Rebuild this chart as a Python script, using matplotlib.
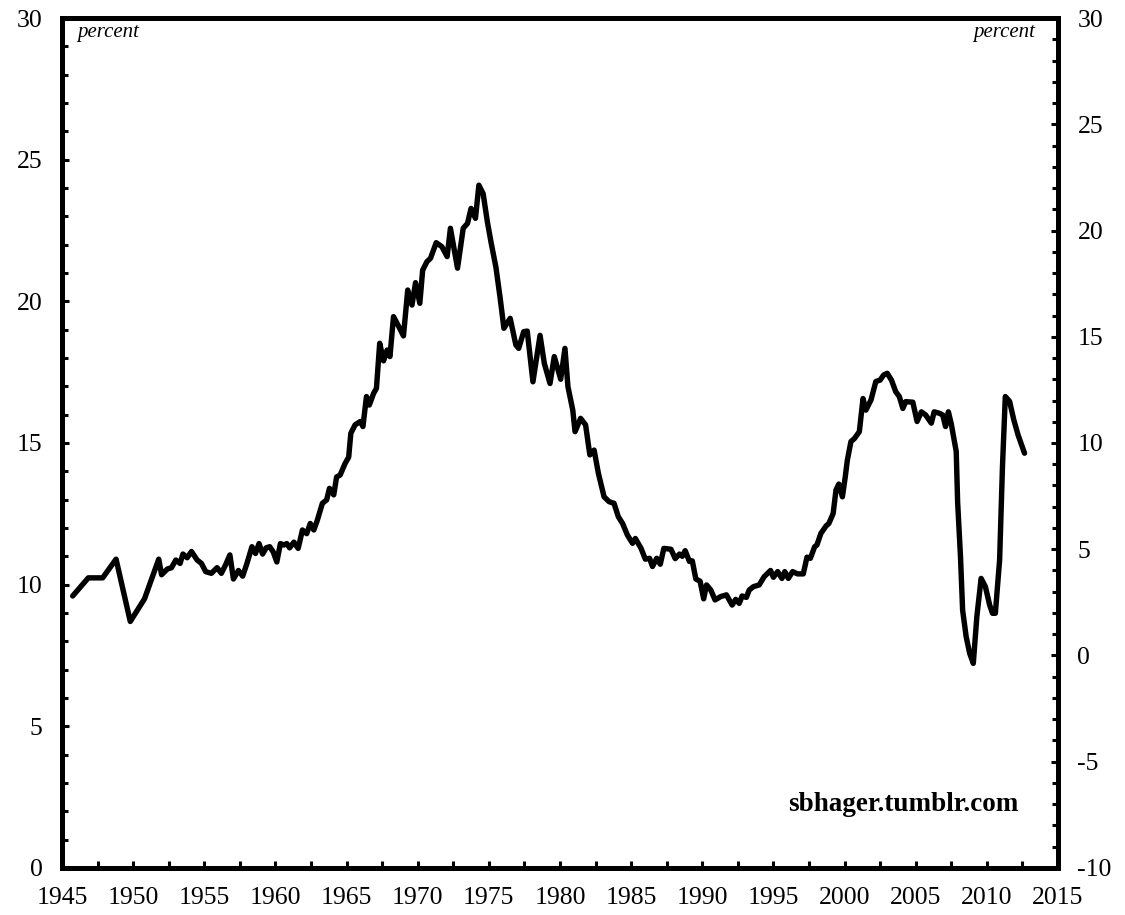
import matplotlib
matplotlib.use('Agg')
import matplotlib.pyplot as plt
from matplotlib.ticker import MultipleLocator

plt.rcParams['font.family'] = ['Liberation Serif', 'DejaVu Serif']
plt.rcParams['axes.unicode_minus'] = False

# values (year, percent)
years = [1945.75, 1946.85, 1947.86, 1948.8, 1949.8, 1950.8, 1951.8, 1952.0, 1952.4, 1952.7,
         1953.0, 1953.3, 1953.5, 1953.8, 1954.1, 1954.5, 1954.8, 1955.1, 1955.5, 1955.9,
         1956.2, 1956.5, 1956.8, 1957.05, 1957.4, 1957.7, 1958.0, 1958.35, 1958.6, 1958.85,
         1959.1, 1959.35, 1959.6, 1959.85, 1960.1, 1960.35, 1960.6, 1960.8, 1961.0, 1961.3,
         1961.6, 1961.9, 1962.2, 1962.45, 1962.7, 1962.95, 1963.3, 1963.6, 1963.8, 1964.1,
         1964.3, 1964.55, 1964.9, 1965.15, 1965.3, 1965.6, 1965.97, 1966.15, 1966.4, 1966.6,
         1966.9, 1967.1, 1967.33, 1967.6, 1967.85, 1968.05, 1968.3, 1968.65, 1969.0, 1969.3,
         1969.6, 1969.85, 1970.15, 1970.35, 1970.65, 1970.9, 1971.3, 1971.7, 1972.07, 1972.3,
         1972.8, 1973.2, 1973.5, 1973.75, 1974.06, 1974.3, 1974.6, 1974.9, 1975.15, 1975.5,
         1975.8, 1976.06, 1976.5, 1976.9, 1977.1, 1977.45, 1977.7, 1978.1, 1978.6, 1978.9,
         1979.3, 1979.6, 1980.05, 1980.35, 1980.56, 1980.9, 1981.06, 1981.45, 1981.8, 1982.1,
         1982.4, 1982.7, 1983.1, 1983.45, 1983.8, 1984.1, 1984.4, 1984.74, 1985.1, 1985.3,
         1985.7, 1986.0, 1986.3, 1986.5, 1986.8, 1987.05, 1987.3, 1987.8, 1988.1, 1988.4,
         1988.6, 1988.8, 1989.1, 1989.3, 1989.55, 1989.85, 1990.1, 1990.3, 1990.6, 1990.9,
         1991.3, 1991.7, 1992.1, 1992.35, 1992.6, 1992.8, 1993.1, 1993.3, 1993.6, 1994.0,
         1994.35, 1994.8, 1995.0, 1995.3, 1995.6, 1995.8, 1996.05, 1996.35, 1996.7, 1997.1,
         1997.36, 1997.6, 1997.9, 1998.06, 1998.34, 1998.7, 1998.9, 1999.2, 1999.4, 1999.6,
         1999.85, 2000.05, 2000.2, 2000.45, 2000.7, 2001.04, 2001.3, 2001.5, 2001.86, 2002.2,
         2002.5, 2002.75, 2003.0, 2003.3, 2003.6, 2003.85, 2004.1, 2004.3, 2004.8, 2005.1,
         2005.4, 2005.7, 2006.1, 2006.3, 2006.66, 2006.9, 2007.1, 2007.3, 2007.5, 2007.85,
         2007.95, 2008.15, 2008.3, 2008.55, 2008.8, 2009.05, 2009.3, 2009.6, 2009.9, 2010.2,
         2010.4, 2010.6, 2010.9, 2011.1, 2011.3, 2011.6, 2011.9, 2012.2, 2012.65]
share = [9.6, 10.24, 10.24, 10.9, 8.7, 9.5, 10.9, 10.35, 10.55, 10.6,
         10.87, 10.75, 11.08, 10.95, 11.17, 10.87, 10.75, 10.46, 10.4, 10.6,
         10.4, 10.7, 11.05, 10.2, 10.5, 10.3, 10.75, 11.34, 11.1, 11.45,
         11.08, 11.3, 11.34, 11.15, 10.8, 11.45, 11.4, 11.45, 11.3, 11.5,
         11.28, 11.93, 11.8, 12.16, 11.93, 12.28, 12.87, 12.99, 13.4, 13.17,
         13.8, 13.87, 14.28, 14.5, 15.34, 15.64, 15.76, 15.58, 16.64, 16.34,
         16.75, 16.93, 18.52, 17.9, 18.28, 18.05, 19.46, 19.13, 18.78, 20.4,
         19.87, 20.66, 19.93, 21.1, 21.4, 21.52, 22.07, 21.93, 21.58, 22.58,
         21.17, 22.58, 22.75, 23.28, 22.93, 24.1, 23.8, 22.8, 22.1, 21.2,
         20.1, 19.05, 19.4, 18.46, 18.34, 18.93, 18.95, 17.16, 18.8, 17.81,
         17.1, 18.05, 17.25, 18.34, 16.99, 16.16, 15.4, 15.87, 15.64, 14.58,
         14.75, 13.93, 13.1, 12.93, 12.87, 12.4, 12.16, 11.75, 11.46, 11.63,
         11.28, 10.9, 10.93, 10.64, 10.93, 10.72, 11.28, 11.25, 10.92, 11.08,
         11.0, 11.2, 10.82, 10.84, 10.2, 10.12, 9.5, 9.99, 9.81, 9.46,
         9.58, 9.64, 9.28, 9.48, 9.34, 9.6, 9.55, 9.81, 9.93, 9.99,
         10.28, 10.5, 10.26, 10.46, 10.22, 10.46, 10.22, 10.46, 10.38, 10.38,
         10.97, 10.93, 11.34, 11.4, 11.81, 12.07, 12.16, 12.51, 13.34, 13.55,
         13.1, 13.8, 14.4, 15.05, 15.16, 15.4, 16.57, 16.16, 16.52, 17.17,
         17.22, 17.4, 17.46, 17.22, 16.81, 16.64, 16.22, 16.46, 16.44, 15.76,
         16.1, 15.99, 15.7, 16.1, 16.05, 15.99, 15.58, 16.1, 15.68, 14.7,
         12.9, 10.99, 9.1, 8.16, 7.57, 7.22, 8.87, 10.22, 9.93, 9.28,
         8.99, 8.99, 10.87, 14.16, 16.64, 16.47, 15.81, 15.28, 14.64]

fig = plt.figure(figsize=(11.25, 9.15), dpi=100)
ax = fig.add_axes([0.0551, 0.0514, 0.8853, 0.9289])
ax.plot(years, share, color='black', lw=3.9, solid_joinstyle='round', solid_capstyle='round')

ax.set_xlim(1945, 2015)
ax.set_ylim(0, 30)
ax.xaxis.set_major_locator(MultipleLocator(5))
ax.xaxis.set_minor_locator(MultipleLocator(2.5))
ax.yaxis.set_major_locator(MultipleLocator(5))
ax.yaxis.set_minor_locator(MultipleLocator(1))

ax2 = ax.twinx()
ax2.set_ylim(-10, 30)
ax2.yaxis.set_major_locator(MultipleLocator(5))
ax2.yaxis.set_minor_locator(MultipleLocator(1))

for a in (ax, ax2):
    for s in a.spines.values():
        s.set_linewidth(3.6)
    a.tick_params(which='major', direction='in', length=5, width=2.2, labelsize=18.5, pad=14)
    a.tick_params(which='minor', direction='in', length=4, width=2.2)
ax.tick_params(axis='x', which='both', length=5)
ax.tick_params(top=False, right=False, which='both')

ax.text(0.015, 0.994, 'percent', transform=ax.transAxes, style='italic', fontsize=15, ha='left', va='top')
ax.text(0.977, 0.994, 'percent', transform=ax.transAxes, style='italic', fontsize=15, ha='right', va='top')
ax.text(0.96, 0.075, 'sbhager.tumblr.com', transform=ax.transAxes, fontweight='bold', fontsize=19.5, ha='right', va='center')

fig.savefig('out.png', dpi=100)
